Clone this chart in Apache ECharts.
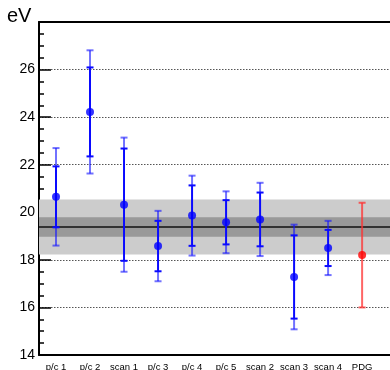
<!DOCTYPE html>
<html><head><meta charset="utf-8">
<script src="https://cdn.jsdelivr.net/npm/echarts@6/dist/echarts.min.js"></script>
<style>html,body{margin:0;padding:0;background:#fff}#c{width:390px;height:370px}</style>
</head><body><div id="c"></div>
<script>
const categories = ['p/c 1', 'p/c 2', 'scan 1', 'p/c 3', 'p/c 4', 'p/c 5', 'scan 2', 'scan 3', 'scan 4', 'PDG'];
const values     = [20.65, 24.22, 20.32, 18.58, 19.86, 19.58, 19.70, 17.28, 18.50, 18.20];
const statErr    = [1.28, 1.87, 2.36, 1.06, 1.27, 0.93, 1.13, 1.75, 0.76, null];
const totalErr   = [2.05, 2.59, 2.82, 1.48, 1.68, 1.30, 1.54, 2.20, 1.14, 2.20];
const average = 19.38;
const averageStatErr = 0.41;
const averageTotalErr = 1.16;
const yTickValues = [14, 16, 18, 20, 22, 24, 26];

const chart = echarts.init(document.getElementById('c'));
const positions = categories.map((c, i) => i + 1);
const barData = categories.map((c, i) => [positions[i], values[i], statErr[i] == null ? NaN : statErr[i], totalErr[i], i]);
const pointData = categories.map((c, i) => ({
  value: [positions[i], values[i]],
  itemStyle: { color: c === 'PDG' ? '#ff0000' : '#0000ff' }
}));

function renderBars(params, api) {
  const x = api.value(0), y = api.value(1), s = api.value(2), t = api.value(3), idx = api.value(4);
  const isRef = categories[idx] === 'PDG';
  const solid = isRef ? 'rgba(255,50,50,0.75)' : '#0a0aff';
  const light = isRef ? 'rgba(255,50,50,0.75)' : 'rgba(20,20,255,0.6)';
  const c = v => api.coord([x, v]);
  const cap = 3.5;
  const children = [];
  const seg = (a, b, color) => children.push({ type: 'line', shape: { x1: a[0], y1: a[1], x2: b[0], y2: b[1] }, style: { stroke: color, lineWidth: 2 } });
  const capAt = (p, color) => children.push({ type: 'line', shape: { x1: p[0] - cap, y1: p[1], x2: p[0] + cap, y2: p[1] }, style: { stroke: color, lineWidth: 2 } });
  const tHi = c(y + t), tLo = c(y - t);
  if (!isNaN(s)) {
    const sHi = c(y + s), sLo = c(y - s);
    seg(sHi, tHi, light); seg(sLo, tLo, light);
    seg(sLo, sHi, solid);
    capAt(tHi, light); capAt(tLo, light);
    capAt(sHi, solid); capAt(sLo, solid);
  } else {
    seg(tLo, tHi, solid);
    capAt(tHi, solid); capAt(tLo, solid);
  }
  return { type: 'group', children };
}

function renderBand(params, api) {
  const cs = params.coordSys;
  const yOf = v => api.coord([1, v])[1];
  const rect = (lo, hi, color) => {
    const y1 = yOf(hi), y2 = yOf(lo);
    return { type: 'rect', shape: { x: cs.x, y: y1, width: cs.width, height: y2 - y1 }, style: { fill: color } };
  };
  const yc = yOf(api.value(0));
  return { type: 'group', children: [
    rect(api.value(0) - api.value(2), api.value(0) + api.value(2), '#cccccc'),
    rect(api.value(0) - api.value(1), api.value(0) + api.value(1), '#999999'),
    { type: 'line', shape: { x1: cs.x, y1: yc, x2: cs.x + cs.width, y2: yc }, style: { stroke: '#111', lineWidth: 1.5 } }
  ] };
}

chart.setOption({
  animation: false,
  backgroundColor: '#fff',
  textStyle: { fontFamily: 'Liberation Sans, Arial, sans-serif' },
  graphic: [{ type: 'text', left: 7, top: 6, style: { text: 'eV', fontSize: 20, fill: '#000', fontFamily: 'Liberation Sans, Arial, sans-serif' } }],
  grid: { left: 39, right: 0, top: 22, bottom: 15, outerBoundsMode: 'none', containLabel: false },
  xAxis: [{
    type: 'value', min: 0.5, max: 10.82, position: 'bottom',
    axisLine: { show: true, onZero: false, lineStyle: { color: '#000', width: 2 } },
    axisTick: { show: false },
    splitLine: { show: false },
    axisLabel: {
      customValues: positions, margin: 7, fontSize: 9.5, color: '#000',
      formatter: v => categories[Math.round(v) - 1] || ''
    }
  }, {
    type: 'value', min: 0.5, max: 10.82, position: 'top',
    axisLine: { show: true, onZero: false, lineStyle: { color: '#000', width: 2 } },
    axisTick: { show: false }, axisLabel: { show: false }, splitLine: { show: false }
  }],
  yAxis: {
    type: 'value', min: 14, max: 28, interval: 2,
    axisLine: { show: true, lineStyle: { color: '#000', width: 2 } },
    axisTick: { show: true, inside: true, length: 12, lineStyle: { color: '#000', width: 1.5 } },
    minorTick: { show: true, splitNumber: 4, length: 5, lineStyle: { color: '#000', width: 1.5 } },
    splitLine: { show: true, lineStyle: { color: '#555', type: [1.5, 1.5], width: 1 } },
    axisLabel: { fontSize: 14, color: '#000', margin: 4, showMaxLabel: false,
      formatter: v => yTickValues.indexOf(v) >= 0 ? String(v) : '' }
  },
  series: [
    { type: 'custom', renderItem: renderBand, data: [[average, averageStatErr, averageTotalErr]], z: 1, silent: true, clip: true },
    { type: 'custom', renderItem: renderBars, data: barData, z: 3, silent: true, encode: { x: 0, y: 1 } },
    { type: 'scatter', data: pointData, symbol: 'circle', symbolSize: 8, z: 4, silent: true }
  ]
});
</script>
</body></html>
